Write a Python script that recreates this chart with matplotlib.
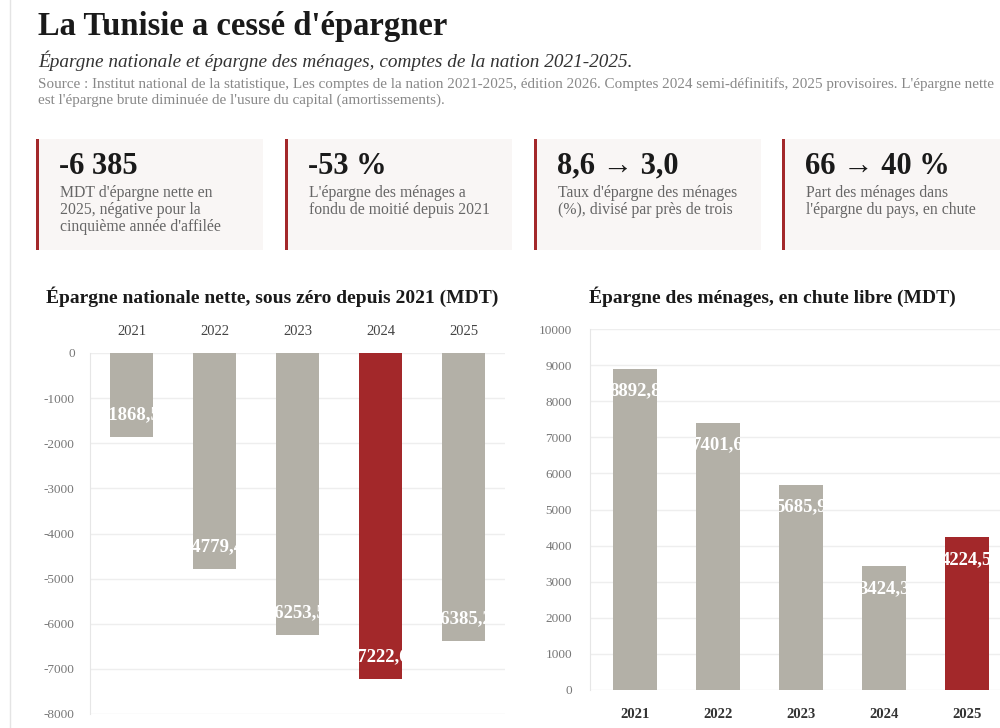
import matplotlib.pyplot as plt
from matplotlib.patches import Rectangle
from matplotlib.lines import Line2D

years = ['2021', '2022', '2023', '2024', '2025']
epargne_nette = [-1868.5, -4779.4, -6253.5, -7222.6, -6385.2]
epargne_menages = [8892.8, 7401.6, 5685.9, 3424.3, 4224.5]
highlight_nette = '2024'
highlight_menages = '2025'

kpi_values = ['-6 385', '-53 %', '8,6 \u2192 3,0', '66 \u2192 40 %']
kpi_texts = [
    ["MDT d'épargne nette en", "2025, négative pour la", "cinquième année d'affilée"],
    ["L'épargne des ménages a", "fondu de moitié depuis 2021"],
    ["Taux d'épargne des ménages", "(%), divisé par près de trois"],
    ["Part des ménages dans", "l'épargne du pays, en chute"],
]

GREY = '#b3b0a7'
RED = '#a3282a'
W, H = 1000, 728
SERIF = ['Liberation Serif', 'DejaVu Serif']
plt.rcParams['font.family'] = SERIF
plt.rcParams['axes.unicode_minus'] = False


def fx(x):
    return x / W


def fy(y):
    return 1 - y / H


def box(x0, y0, x1, y1):
    return [fx(x0), fy(y1), (x1 - x0) / W, (y1 - y0) / H]


fig = plt.figure(figsize=(10, 7.28), dpi=100)
fig.add_artist(Line2D([fx(10), fx(10)], [0, 1], color='#e4e4e4', lw=1))

fig.text(fx(38), fy(26), "La Tunisie a cessé d'épargner", fontsize=23.5,
         fontweight='bold', va='center', color='#1a1a1a')
fig.text(fx(38), fy(61), "Épargne nationale et épargne des ménages, comptes de la nation 2021-2025.",
         fontsize=13.9, style='italic', va='center', color='#333333')
fig.text(fx(38), fy(84),
         "Source : Institut national de la statistique, Les comptes de la nation 2021-2025, édition 2026. "
         "Comptes 2024 semi-définitifs, 2025 provisoires. L'épargne nette",
         fontsize=10.9, va='center', color='#888888')
fig.text(fx(38), fy(100),
         "est l'épargne brute diminuée de l'usure du capital (amortissements).",
         fontsize=10.9, va='center', color='#888888')

card_x = [36, 285, 534, 782]
for cx, val, lines in zip(card_x, kpi_values, kpi_texts):
    x1 = min(cx + 227, 1000)
    fig.add_artist(Rectangle((fx(cx), fy(250)), (x1 - cx) / W, 111 / H,
                             transform=fig.transFigure, facecolor='#f9f6f5', edgecolor='none'))
    fig.add_artist(Rectangle((fx(cx), fy(250)), 3 / W, 111 / H,
                             transform=fig.transFigure, facecolor=RED, edgecolor='none'))
    fig.text(fx(cx + 23), fy(166), val, fontsize=22, fontweight='bold',
             va='center', color='#1a1a1a', family=SERIF)
    for i, line in enumerate(lines):
        fig.text(fx(cx + 24), fy(193 + 17 * i), line, fontsize=11.3, va='center',
                 color='#666666')


def bar_chart(ax, values, highlight):
    x = list(range(len(years)))
    colors = [RED if y == highlight else GREY for y in years]
    bars = ax.bar(x, values, width=0.53, color=colors, zorder=2)
    for b, v in zip(bars, values):
        off = -16 if v > 0 else 16
        t = ax.annotate(f'{v:.1f}'.replace('.', ','), (b.get_x() + b.get_width() / 2, v),
                        xytext=(0, off), textcoords='offset points', ha='center',
                        va='center', color='white', fontsize=13.5, fontweight='bold',
                        clip_on=True, zorder=3)
        t.set_clip_path(b)
    ax.set_xticks(x, years)
    ax.grid(axis='y', color='#eeeeee', lw=1, zorder=0)
    ax.set_axisbelow(True)
    for s in ['top', 'right', 'bottom']:
        ax.spines[s].set_visible(False)
    ax.spines['left'].set_color('#e6e6e6')
    ax.tick_params(axis='both', length=0, labelcolor='#777777', labelsize=9.5)


ax1 = fig.add_axes(box(90, 353, 505, 714))
bar_chart(ax1, epargne_nette, highlight_nette)
ax1.set_ylim(-8000, 0)
ax1.set_yticks(range(-8000, 1, 1000))
ax1.set_xlim(-0.5, 4.5)
ax1.xaxis.tick_top()
ax1.tick_params(axis='x', pad=11, labelsize=10.5, labelcolor='#444444')
ax1.tick_params(axis='y', pad=11)
fig.text(fx(272), fy(297), 'Épargne nationale nette, sous zéro depuis 2021 (MDT)',
         fontsize=14, fontweight='bold', color='#1a1a1a', ha='center', va='center')

ax2 = fig.add_axes(box(590, 329, 1000, 690))
bar_chart(ax2, epargne_menages, highlight_menages)
ax2.set_ylim(0, 10000)
ax2.set_yticks(range(0, 10001, 1000))
ax2.set_xlim(-0.54, 4.4)
ax2.tick_params(axis='x', pad=13, labelsize=10.5, labelcolor='#333333')
ax2.tick_params(axis='y', pad=13)
for lab in ax2.get_xticklabels():
    lab.set_fontweight('bold')
fig.text(fx(772), fy(297), 'Épargne des ménages, en chute libre (MDT)',
         fontsize=14, fontweight='bold', color='#1a1a1a', ha='center', va='center')

fig.savefig('out.png', dpi=100)
